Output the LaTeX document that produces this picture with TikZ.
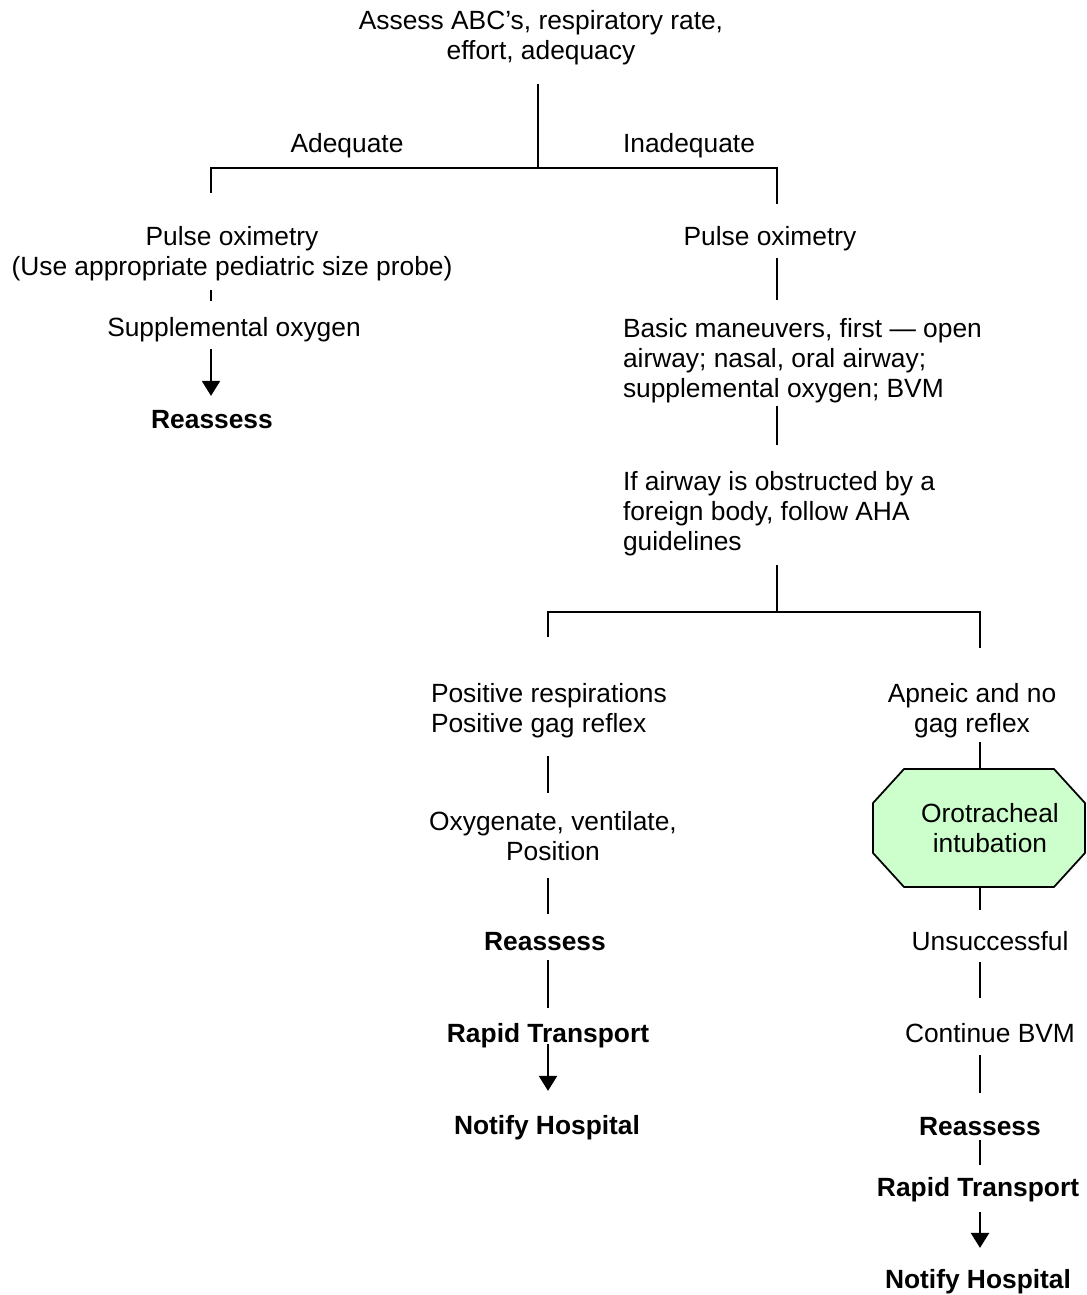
\documentclass[tikz,border=0pt]{standalone}
\usepackage{fontspec}
\setmainfont{Liberation Sans}
\usepackage{tikz}
\usetikzlibrary{arrows.meta,calc,backgrounds}
\definecolor{octgreen}{HTML}{CCFFCC}

\begin{document}
\begin{tikzpicture}[x=0.02cm, y=-0.02cm]
  \tikzstyle{FlowText}=[inner sep=0pt, outer sep=0pt, font=\fontsize{15}{17}\selectfont]
  \tikzstyle{FlowBold}=[FlowText, font=\fontsize{15}{17}\selectfont\bfseries]
  \tikzstyle{FlowLine}=[line width=1.25pt]
  \tikzstyle{FlowArrow}=[FlowLine, -{Triangle[width=0.36cm,length=0.3cm]}]
  \useasboundingbox (0,0) rectangle (1086,1295);

  \node[FlowText, align=center] (assess) at (541,38) {Assess ABC’s, respiratory rate,\\effort, adequacy};
  \node[FlowText, anchor=base] (adeq) at (347,152) {Adequate};
  \node[FlowText, anchor=base] (inadeq) at (689,152) {Inadequate};
  \coordinate (split) at (538,168);
  \coordinate (barL) at (211,168);
  \coordinate (barR) at (777,168);

  % adequate side
  \node[FlowText, align=center] (pulseL) at (232,254) {Pulse oximetry\\(Use appropriate pediatric size probe)};
  \node[FlowText, anchor=base] (suppL) at (234,336) {Supplemental oxygen};
  \node[FlowBold, anchor=base] (reassL) at (212,428) {Reassess};

  % inadequate side
  \node[FlowText, anchor=base] (pulseR) at (770,245) {Pulse oximetry};
  \node[FlowText, align=left, anchor=west] (basic) at (623,361) {Basic maneuvers, first — open\\airway; nasal, oral airway;\\supplemental oxygen; BVM};
  \node[FlowText, align=left, anchor=west] (airway) at (623,514) {If airway is obstructed by a\\foreign body, follow AHA\\guidelines};
  \coordinate (fork) at (777,612);
  \coordinate (bar2L) at (548,612);
  \coordinate (bar2R) at (980,612);

  \node[FlowText, align=left, anchor=west] (posresp) at (431,711) {Positive respirations\\Positive gag reflex};
  \node[FlowText, align=center] (oxy) at (553,836) {Oxygenate, ventilate,\\Position};
  \node[FlowBold, anchor=base] (reassM) at (545,950) {Reassess};
  \node[FlowBold, anchor=base] (rapidM) at (548,1042) {Rapid Transport};
  \node[FlowBold, anchor=base] (notifyM) at (547,1134) {Notify Hospital};

  \node[FlowText, align=center] (apneic) at (972,711) {Apneic and no\\gag reflex};
  \node[FlowText, align=center, minimum width=4.24cm, minimum height=2.36cm] (intub) at (990,828) {Orotracheal\\intubation};
  \node[FlowText, anchor=base] (unsucc) at (990,950) {Unsuccessful};
  \node[FlowText, anchor=base] (contbvm) at (990,1042) {Continue BVM};
  \node[FlowBold, anchor=base] (reassR) at (980,1135) {Reassess};
  \node[FlowBold, anchor=base] (rapidR) at (978,1196) {Rapid Transport};
  \node[FlowBold, anchor=base] (notifyR) at (978,1288) {Notify Hospital};

  % octagon behind the intubation text
  \begin{scope}[on background layer]
    \draw[line width=1pt, fill=octgreen] ($(intub.north west)+(20,0)$) -- ($(intub.north east)+(-42,0)$)
      -- ($(intub.north east)+(-11,34)$) -- ($(intub.south east)+(-11,-34)$)
      -- ($(intub.south east)+(-42,0)$) -- ($(intub.south west)+(20,0)$)
      -- ($(intub.south west)+(-11,-34)$) -- ($(intub.north west)+(-11,34)$) -- cycle;
  \end{scope}

  % edges
  \draw[FlowLine, shorten <=0.38cm] (assess.south -| split) -- (split);
  \draw[FlowLine, shorten <=0.68cm, shorten >=0.44cm] (barL |- pulseL.north) -- (barL) -- (barR) -- (barR |- pulseR.north);
  \draw[FlowLine, shorten <=0.18cm, shorten >=0.32cm] (barL |- pulseL.south) -- (barL |- suppL.north);
  \draw[FlowArrow, shorten <=0.15cm, shorten >=0.28cm] (barL |- suppL.south) -- (barL |- reassL.north);

  \draw[FlowLine, shorten <=0.15cm, shorten >=0.38cm] (barR |- pulseR.south) -- (barR |- basic.north);
  \draw[FlowLine, shorten <=0.06cm, shorten >=0.54cm] (barR |- basic.south) -- (barR |- airway.north);
  \draw[FlowLine, shorten <=0.18cm] (fork |- airway.south) -- (fork);
  \draw[FlowLine, shorten <=0.94cm, shorten >=0.72cm] (bar2L |- posresp.north) -- (bar2L) -- (bar2R) -- (bar2R |- apneic.north);

  \draw[FlowLine, shorten <=0.36cm, shorten >=0.36cm] (bar2L |- posresp.south) -- (bar2L |- oxy.north);
  \draw[FlowLine, shorten <=0.34cm, shorten >=0.36cm] (bar2L |- oxy.south) -- (bar2L |- reassM.north);
  \draw[FlowLine, shorten <=0.2cm, shorten >=0.3cm] (bar2L |- reassM.south) -- (bar2L |- rapidM.north);
  \draw[FlowArrow, shorten <=-0.06cm, shorten >=0.48cm] (bar2L |- rapidM.south) -- (bar2L |- notifyM.north);

  \draw[FlowLine, shorten <=0.08cm] (bar2R |- apneic.south) -- (bar2R |- intub.north);
  \draw[FlowLine, shorten >=0.42cm] (bar2R |- intub.south) -- (bar2R |- unsucc.north);
  \draw[FlowLine, shorten <=0.24cm, shorten >=0.5cm] (bar2R |- unsucc.south) -- (bar2R |- contbvm.north);
  \draw[FlowLine, shorten <=0.26cm, shorten >=0.48cm] (bar2R |- contbvm.south) -- (bar2R |- reassR.north);
  \draw[FlowLine, shorten <=0.1cm, shorten >=0.24cm] (bar2R |- reassR.south) -- (bar2R |- rapidR.north);
  \draw[FlowArrow, shorten <=0.22cm, shorten >=0.42cm] (bar2R |- rapidR.south) -- (bar2R |- notifyR.north);

\end{tikzpicture}
\end{document}
